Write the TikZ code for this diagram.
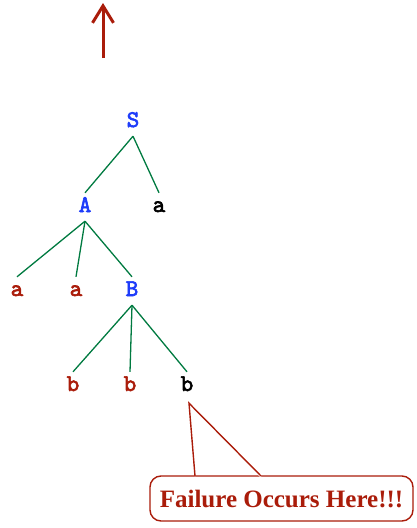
\documentclass[tikz,border=0pt]{standalone}
\usepackage{fontspec}
\setmainfont{Liberation Serif}
\newfontfamily\treefont{lmmono10-regular.otf}[FakeBold=2.6]
\usetikzlibrary{arrows.meta}
\definecolor{nontermblue}{RGB}{30,60,250}
\definecolor{matchred}{RGB}{170,28,10}
\definecolor{edgegreen}{RGB}{0,122,64}
\tikzset{
  sym/.style={font=\treefont\bfseries\fontsize{24}{24}\selectfont, anchor=base,
    inner xsep=0pt, inner ysep=5pt, text height=14pt, text depth=4pt},
  nonterm/.style={sym, text=nontermblue},
  matched/.style={sym, text=matchred},
  pending/.style={sym, text=black},
  branch/.style={draw=edgegreen, line width=1.3pt},
  callout/.style={draw=matchred, line width=1.4pt, fill=white, rounded corners=11pt,
    minimum width=263pt, minimum height=45pt, inner sep=0pt,
    font=\bfseries\fontsize{25}{25}\selectfont, text=matchred},
}
\begin{document}
\begin{tikzpicture}[x=1pt, y=-1pt]
  \useasboundingbox (0,0) rectangle (417,528);

  % upward arrow
  \coordinate (arrowfoot) at (103,58);
  \coordinate (arrowtip) at (103,3);
  \draw[matchred, line width=3pt, -{Straight Barb[length=17pt, width=21pt, line width=3pt]}]
    (arrowfoot) -- (arrowtip);

  % parse tree
  \node[nonterm] (S)  at (133,127) {S};
  \node[nonterm] (A)  at (85,212)  {A};
  \node[pending] (a0) at (159,212) {a};
  \node[matched] (a1) at (17,296)  {a};
  \node[matched] (a2) at (76,296)  {a};
  \node[nonterm] (B)  at (132,296) {B};
  \node[matched] (b1) at (73,391)  {b};
  \node[matched] (b2) at (130,391) {b};
  \node[pending] (b3) at (187,391) {b};

  \draw[branch] (S.south) -- (A.north);
  \draw[branch] (S.south) -- (a0.north);
  \draw[branch] (A.south) -- (a1.north);
  \draw[branch] (A.south) -- (a2.north);
  \draw[branch] (A.south) -- (B.north);
  \draw[branch] (B.south) -- (b1.north);
  \draw[branch] (B.south) -- (b2.north);
  \draw[branch] (B.south) -- (b3.north);

  % callout
  \node[callout] (fail) at (281.5,498.5) {Failure Occurs Here!!!};
  \coordinate (pointer) at ([xshift=2pt, yshift=-3pt]b3.south);
  \coordinate (baseL) at (195,476);
  \coordinate (baseR) at (261,476);
  \fill[white] ([yshift=-2pt]baseL) -- (pointer) -- ([yshift=-2pt]baseR)
    -- ([yshift=2pt]baseR) -- ([yshift=2pt]baseL) -- cycle;
  \draw[matchred, line width=1.4pt, line join=miter] (baseL) -- (pointer) -- (baseR);
\end{tikzpicture}
\end{document}
